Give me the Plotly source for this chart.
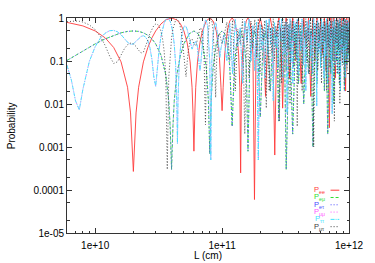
import plotly.graph_objects as go

# ---------------- data (L in units of 1e10 cm) ----------------
L_ee = [0.6, 0.8, 1.0, 1.2, 1.4, 1.6, 1.8, 1.9, 2.0, 2.1, 2.2, 2.4, 2.6, 2.8, 3.0, 3.3, 3.6, 4.0,
        4.4, 4.7, 5.0, 5.3, 5.6, 5.8, 5.9, 6.0, 6.1, 6.2, 6.4, 6.7, 7.0, 7.5, 8.0, 8.5, 9.0, 9.5,
        9.8, 10.0, 10.2, 10.5, 11.0, 11.5, 12.0, 12.5, 13.0, 13.5, 13.8, 14.0, 14.2, 14.5, 15.0,
        15.5, 16.0, 16.5, 17.0, 17.5, 18.0, 18.5, 19.0, 20.0, 21.0, 22.0, 23.0, 24.0, 25.0, 26.0,
        27.0, 28.0, 29.0, 30.0, 31.0, 32.0, 34, 36, 38, 40, 42, 44, 46, 48, 50, 52, 54, 56, 58,
        60, 62, 64, 66, 68, 70, 72, 74, 76, 78, 80, 82, 84, 86, 88, 90, 92, 94, 96, 98, 100]
P_ee = [0.79, 0.655, 0.5, 0.345, 0.206, 0.0955, 0.0245, 0.0062, 0.00027, 0.0062, 0.0245, 0.0955,
        0.206, 0.345, 0.5, 0.727, 0.905, 1.0, 0.905, 0.727, 0.5, 0.273, 0.0955, 0.0245, 0.0062,
        0.0008, 0.0062, 0.0245, 0.0955, 0.273, 0.5, 0.854, 1.0, 0.854, 0.5, 0.146, 0.0245, 0.007,
        0.0245, 0.146, 0.5, 0.854, 1.0, 0.854, 0.5, 0.146, 0.0245, 0.00025, 0.0245, 0.146, 0.5,
        0.854, 1.0, 0.854, 0.5, 0.146, 0.00006, 0.146, 0.5, 1.0, 0.5, 0.015, 0.5, 1.0, 0.5, 0.00065,
        0.5, 1.0, 0.5, 0.008, 0.5, 1.0, 0.04, 1, 0.1, 1, 0.03, 1, 0.2, 1, 0.015, 1, 0.1, 1, 0.2,
        1, 0.15, 1, 0.06, 1, 0.0028, 1, 0.1, 1, 0.04, 1, 0.2, 1, 0.1, 1, 0.3, 1, 0.02, 1, 0.15, 1]

L_em = [0.6, 0.8, 1.0, 1.2, 1.4, 1.6, 1.8, 2.0, 2.2, 2.4, 2.6, 2.8, 3.0, 3.3, 3.6, 3.8, 3.9, 4.0,
        4.1, 4.2, 4.4, 4.7, 5.0, 5.5, 6.0, 6.5, 7.0, 7.5, 7.8, 8.0, 8.2, 8.5, 9.0, 9.5, 10.0, 10.5,
        11.0, 11.5, 12.0, 12.5, 13.0, 14.0, 15.0, 15.5, 16.0, 16.5, 17.0, 18.0, 19.0, 20.0, 21, 22,
        23, 24, 25, 26, 27, 28, 29, 30, 31, 32, 34, 36, 38, 40, 42, 44, 46, 48, 50, 52, 54, 56, 58,
        60, 62, 64, 66, 68, 70, 72, 74, 76, 78, 80, 82, 84, 86, 88, 90, 92, 94, 96, 98, 100]
P_em = [0.103, 0.173, 0.25, 0.327, 0.397, 0.452, 0.488, 0.5, 0.488, 0.452, 0.397, 0.327, 0.25,
        0.137, 0.048, 0.012, 0.003, 0.0003, 0.003, 0.012, 0.048, 0.137, 0.25, 0.427, 0.5, 0.427,
        0.25, 0.073, 0.012, 0.0007, 0.012, 0.073, 0.25, 0.427, 0.5, 0.427, 0.25, 0.073, 0.003,
        0.073, 0.25, 0.5, 0.25, 0.073, 0.0008, 0.073, 0.25, 0.5, 0.25, 0.005, 0.25, 0.5, 0.25,
        0.02, 0.25, 0.5, 0.25, 0.004, 0.25, 0.5, 0.25, 0.0003, 0.5, 0.002, 0.5, 0.03, 0.5, 0.01,
        0.5, 0.05, 0.5, 0.001, 0.5, 0.03, 0.5, 0.1, 0.5, 0.02, 0.5, 0.002, 0.5, 0.05, 0.5, 0.01,
        0.5, 0.1, 0.5, 0.03, 0.5, 0.15, 0.5, 0.02, 0.5, 0.08, 0.5, 0.1]
P_et = [0.103, 0.173, 0.25, 0.327, 0.397, 0.452, 0.488, 0.5, 0.488, 0.452, 0.397, 0.327, 0.25,
        0.137, 0.048, 0.012, 0.003, 0.0003, 0.003, 0.012, 0.048, 0.137, 0.25, 0.427, 0.5, 0.427,
        0.25, 0.073, 0.012, 0.0007, 0.012, 0.073, 0.25, 0.427, 0.5, 0.427, 0.25, 0.073, 0.003,
        0.073, 0.25, 0.5, 0.25, 0.073, 0.0008, 0.073, 0.25, 0.5, 0.25, 0.005, 0.25, 0.5, 0.25,
        0.02, 0.25, 0.5, 0.25, 0.004, 0.25, 0.5, 0.25, 0.0003, 0.5, 0.002, 0.5, 0.03, 0.5, 0.01,
        0.5, 0.05, 0.5, 0.001, 0.5, 0.03, 0.5, 0.1, 0.5, 0.02, 0.5, 0.002, 0.5, 0.05, 0.5, 0.01,
        0.5, 0.1, 0.5, 0.03, 0.5, 0.15, 0.5, 0.02, 0.5, 0.08, 0.5, 0.1]

L_mu = [0.6, 0.65, 0.7, 0.75, 0.8, 0.9, 1.0, 1.1, 1.2, 1.3, 1.4, 1.5, 1.6, 1.7, 1.8, 1.9, 2.0,
        2.1, 2.2, 2.3, 2.4, 2.5, 2.6, 2.7, 2.8, 2.9, 3.0, 3.1, 3.2, 3.3, 3.4, 3.5, 3.6, 3.7, 3.8,
        3.9, 4.0, 4.1, 4.2, 4.3, 4.4, 4.45, 4.5, 4.6, 4.8, 5.0, 5.1, 5.2, 5.3, 5.4, 5.6, 5.8, 6.0,
        6.2, 6.3, 6.4, 6.6, 6.7, 6.8, 7.0, 7.2, 7.4, 7.5, 7.7, 8.0, 8.15, 8.3, 8.5, 8.7, 8.8, 8.9,
        9.0, 9.2, 9.4, 9.6, 9.8, 10.0,
        10.3, 10.9, 11.5, 12.1, 12.7, 13.3, 13.9, 14.5, 15.1, 15.7, 16.3, 16.9, 17.5, 18.1, 18.7,
        19.3, 19.9, 20.5, 21.1, 21.7, 22.3, 22.9, 23.5, 24.1, 24.7, 25.3, 25.9, 26.5, 27.1, 27.7,
        28.3, 28.9, 29.5, 30.1, 30.7, 31.3, 31.9, 32.5, 33.1, 33.7, 34.3, 34.9, 35.5, 36.1, 36.7,
        37.3, 37.9, 38.5, 39.1, 39.7, 40.7, 41.7, 42.7, 43.7, 44.7, 45.7, 46.7, 47.7, 48.7, 49.7,
        50.7, 51.7, 52.7, 53.7, 54.7, 55.7, 56.7, 57.7, 58.7, 59.7, 60.7, 61.7, 62.7, 63.7, 64.7,
        65.7, 66.7, 67.7, 68.7, 69.7, 70.7, 71.7, 72.7, 73.7, 74.7, 75.7, 76.7, 77.7, 78.7, 79.7,
        80.7, 81.7, 82.7, 83.7, 84.7, 85.7, 86.7, 87.7, 88.7, 89.7, 90.7, 91.7, 92.7, 93.7, 94.7,
        95.7, 96.7, 97.7, 98.7, 99.7]
P_mm = [0.0795, 0.0358, 0.0119, 0.0073, 0.0218, 0.0979, 0.2145, 0.3401, 0.4446, 0.5063, 0.5151,
        0.4773, 0.4093, 0.3337, 0.2731, 0.2435, 0.25, 0.2855, 0.3339, 0.374, 0.3865, 0.3598,
        0.2944, 0.2033, 0.11, 0.0422, 0.0258, 0.0777, 0.1969, 0.3717, 0.5728, 0.7634, 0.9064,
        0.9725, 0.9471, 0.8339, 0.6545, 0.4438, 0.2425, 0.0886, 0.009, 0.0012, 0.013, 0.0983,
        0.3882, 0.625, 0.6592, 0.6297, 0.5494, 0.4406, 0.245, 0.1887, 0.25, 0.2871, 0.2627,
        0.2081, 0.0835, 0.0597, 0.088, 0.3196, 0.6714, 0.8937, 0.8902, 0.6439, 0.0955, 0.0005,
        0.0976, 0.4271, 0.7288, 0.7897, 0.7749, 0.69, 0.4094, 0.1738, 0.1205, 0.1973, 0.25,
        0.40, 0.10, 0.75, 0.05, 0.92, 0.22, 0.60, 0.03, 0.85, 0.28, 0.95, 0.10, 0.66, 0.06, 0.80,
        0.0005, 0.72, 0.18, 0.55, 0.04, 0.90, 0.14, 0.97, 0.25, 0.60, 0.012, 0.78, 0.20, 0.50,
        0.07, 0.88, 0.30, 0.94, 0.04, 0.65, 0.15, 0.83, 0.006, 0.70, 0.22, 0.96, 0.09, 0.58, 0.03,
        0.86, 0.26, 0.75, 0.11, 0.92, 0.05, 0.68, 0.17, 0.95, 0.08, 0.62, 0.02, 0.84, 0.30, 0.90,
        0.12, 0.55, 0.05, 0.97, 0.20, 0.73, 0.009, 0.88, 0.16, 0.60, 0.07, 0.93, 0.25, 0.80, 0.04,
        0.66, 0.13, 0.96, 0.03, 0.71, 0.22, 0.89, 0.10, 0.58, 0.006, 0.85, 0.28, 0.94, 0.08, 0.64,
        0.18, 0.91, 0.05, 0.76, 0.15, 0.97, 0.02, 0.60, 0.24, 0.87, 0.09, 0.70, 0.14, 0.93, 0.04,
        0.66, 0.20, 0.90, 0.11, 0.78, 0.30]
P_tt = list(P_mm)
P_mt = [0.8175, 0.845, 0.8515, 0.838, 0.8054, 0.6912, 0.5355, 0.3708, 0.2282, 0.1303, 0.0879,
        0.0959, 0.1385, 0.1935, 0.2391, 0.2595, 0.25, 0.2175, 0.1783, 0.1532, 0.161, 0.2134,
        0.3086, 0.4332, 0.56, 0.6687, 0.7242, 0.7115, 0.6303, 0.4918, 0.3242, 0.1634, 0.0458,
        0.0003, 0.0406, 0.1631, 0.3455, 0.5532, 0.7453, 0.8842, 0.9432, 0.9389, 0.8938, 0.7987,
        0.439, 0.125, 0.0516, 0.0431, 0.0872, 0.1624, 0.3028, 0.3235, 0.25, 0.2251, 0.2645,
        0.3397, 0.5195, 0.5769, 0.5848, 0.4304, 0.1558, 0.0033, 0.0366, 0.3289, 0.9045, 0.9926,
        0.8751, 0.4997, 0.1346, 0.0375, 0.0142, 0.06, 0.2634, 0.4292, 0.4273, 0.3149, 0.25,
        0.35, 0.80, 0.10, 0.90, 0.02, 0.55, 0.25, 0.94, 0.002, 0.62, 0.04, 0.85, 0.20, 0.92, 0.12,
        0.97, 0.05, 0.70, 0.30, 0.88, 0.008, 0.75, 0.02, 0.60, 0.15, 0.96, 0.10, 0.66, 0.35, 0.90,
        0.004, 0.58, 0.03, 0.93, 0.22, 0.80, 0.06, 0.98, 0.18, 0.72, 0.01, 0.87, 0.30, 0.95, 0.07,
        0.63, 0.14, 0.84, 0.003, 0.90, 0.25, 0.76, 0.02, 0.89, 0.33, 0.96, 0.09, 0.60, 0.05, 0.82,
        0.40, 0.93, 0.001, 0.74, 0.17, 0.97, 0.06, 0.78, 0.30, 0.91, 0.03, 0.65, 0.12, 0.94, 0.28,
        0.83, 0.02, 0.95, 0.21, 0.70, 0.07, 0.88, 0.36, 0.97, 0.10, 0.62, 0.004, 0.90, 0.26, 0.78,
        0.05, 0.93, 0.18, 0.80, 0.01, 0.96, 0.32, 0.70, 0.08, 0.89, 0.22, 0.84, 0.03, 0.94, 0.27,
        0.75, 0.06, 0.86, 0.15, 0.60]

x_tick_vals = [1e10, 1e11, 1e12]
x_tick_text = ["1e+10", "1e+11", "1e+12"]
x_minor_vals = [7e9, 8e9, 9e9] + [k * 1e10 for k in range(2, 10)] + [k * 1e11 for k in range(2, 10)]
y_tick_vals = [1, 0.1, 0.01, 0.001, 0.0001, 0.00001]
y_tick_text = ["1", "0.1", "0.01", "0.001", "0.0001", "1e-05"]
y_minor_vals = [m * 10.0 ** e for e in range(-5, 0) for m in (2, 5)]

series = [
    ("P<sub>ee</sub>", L_ee, P_ee, "#ff3a3a", "solid"),
    ("P<sub>eμ</sub>", L_em, P_em, "#30e030", "3px,2px"),
    ("P<sub>eτ</sub>", L_em, P_et, "#4a4aff", "1px,2px"),
    ("P<sub>μμ</sub>", L_mu, P_mm, "#ff55ff", "1px,2px"),
    ("P<sub>ττ</sub>", L_mu, P_tt, "#40e4ff", "4px,1px,1px,1px"),
    ("P<sub>μτ</sub>", L_mu, P_mt, "#404040", "1px,2px"),
]

fig = go.Figure()
for name, L, P, col, dash in series:
    fig.add_trace(go.Scatter(x=[v * 1e10 for v in L], y=P, mode="lines", name=name,
                             line=dict(color=col, width=0.9, dash=dash), showlegend=False))

# key (gnuplot style: text then sample)
x0, x1 = 67, 358
yt, yb = 12, 233
def px(x):
    return (x - x0) / (x1 - x0)
def py(y):
    return (yb - y) / (yb - yt)
rows = [189, 196.5, 204, 211.5, 219, 226.5]
for (name, L, P, col, dash), ry in zip(series, rows):
    fig.add_annotation(x=px(334), y=py(ry), xref="paper", yref="paper", text=name,
                       showarrow=False, xanchor="right", yanchor="middle", borderpad=0,
                       font=dict(color=col, size=7.5, family="Liberation Sans"))
    fig.add_shape(type="line", xref="paper", yref="paper", x0=px(339), x1=px(348),
                  y0=py(ry), y1=py(ry), line=dict(color=col, width=1, dash=dash))

fig.add_annotation(x=px(10), y=0.5, xref="paper", yref="paper", text="Probability",
                   textangle=-90, showarrow=False, xanchor="center", yanchor="middle",
                   font=dict(size=10))
fig.add_annotation(x=0.5, y=py(256), xref="paper", yref="paper", text="L (cm)",
                   showarrow=False, xanchor="center", yanchor="middle", font=dict(size=10))

axis_common = dict(showline=True, linecolor="#333333", linewidth=1, mirror="ticks",
                   ticks="inside", ticklen=5, tickcolor="#333333", showgrid=False,
                   zeroline=False)
fig.update_xaxes(type="log", range=[9.77815, 12], tickvals=x_tick_vals, ticktext=x_tick_text,
                 ticklabelstandoff=3,
                 minor=dict(tickvals=x_minor_vals, ticks="inside", ticklen=2.5,
                            tickcolor="#333333", showgrid=False),
                 **axis_common)
fig.update_yaxes(type="log", range=[-5, 0], tickvals=y_tick_vals, ticktext=y_tick_text,
                 minor=dict(tickvals=y_minor_vals, ticks="inside", ticklen=2.5,
                            tickcolor="#333333", showgrid=False),
                 **axis_common)
fig.update_layout(width=375, height=263, margin=dict(l=67, r=17, t=12, b=30),
                  paper_bgcolor="white", plot_bgcolor="white", hovermode=False,
                  font=dict(family="Liberation Sans", size=10, color="black"))
fig.write_html("out.html", config={"displayModeBar": False, "staticPlot": True},
               post_script="document.body.style.margin='0px';document.body.style.overflow='hidden';")
